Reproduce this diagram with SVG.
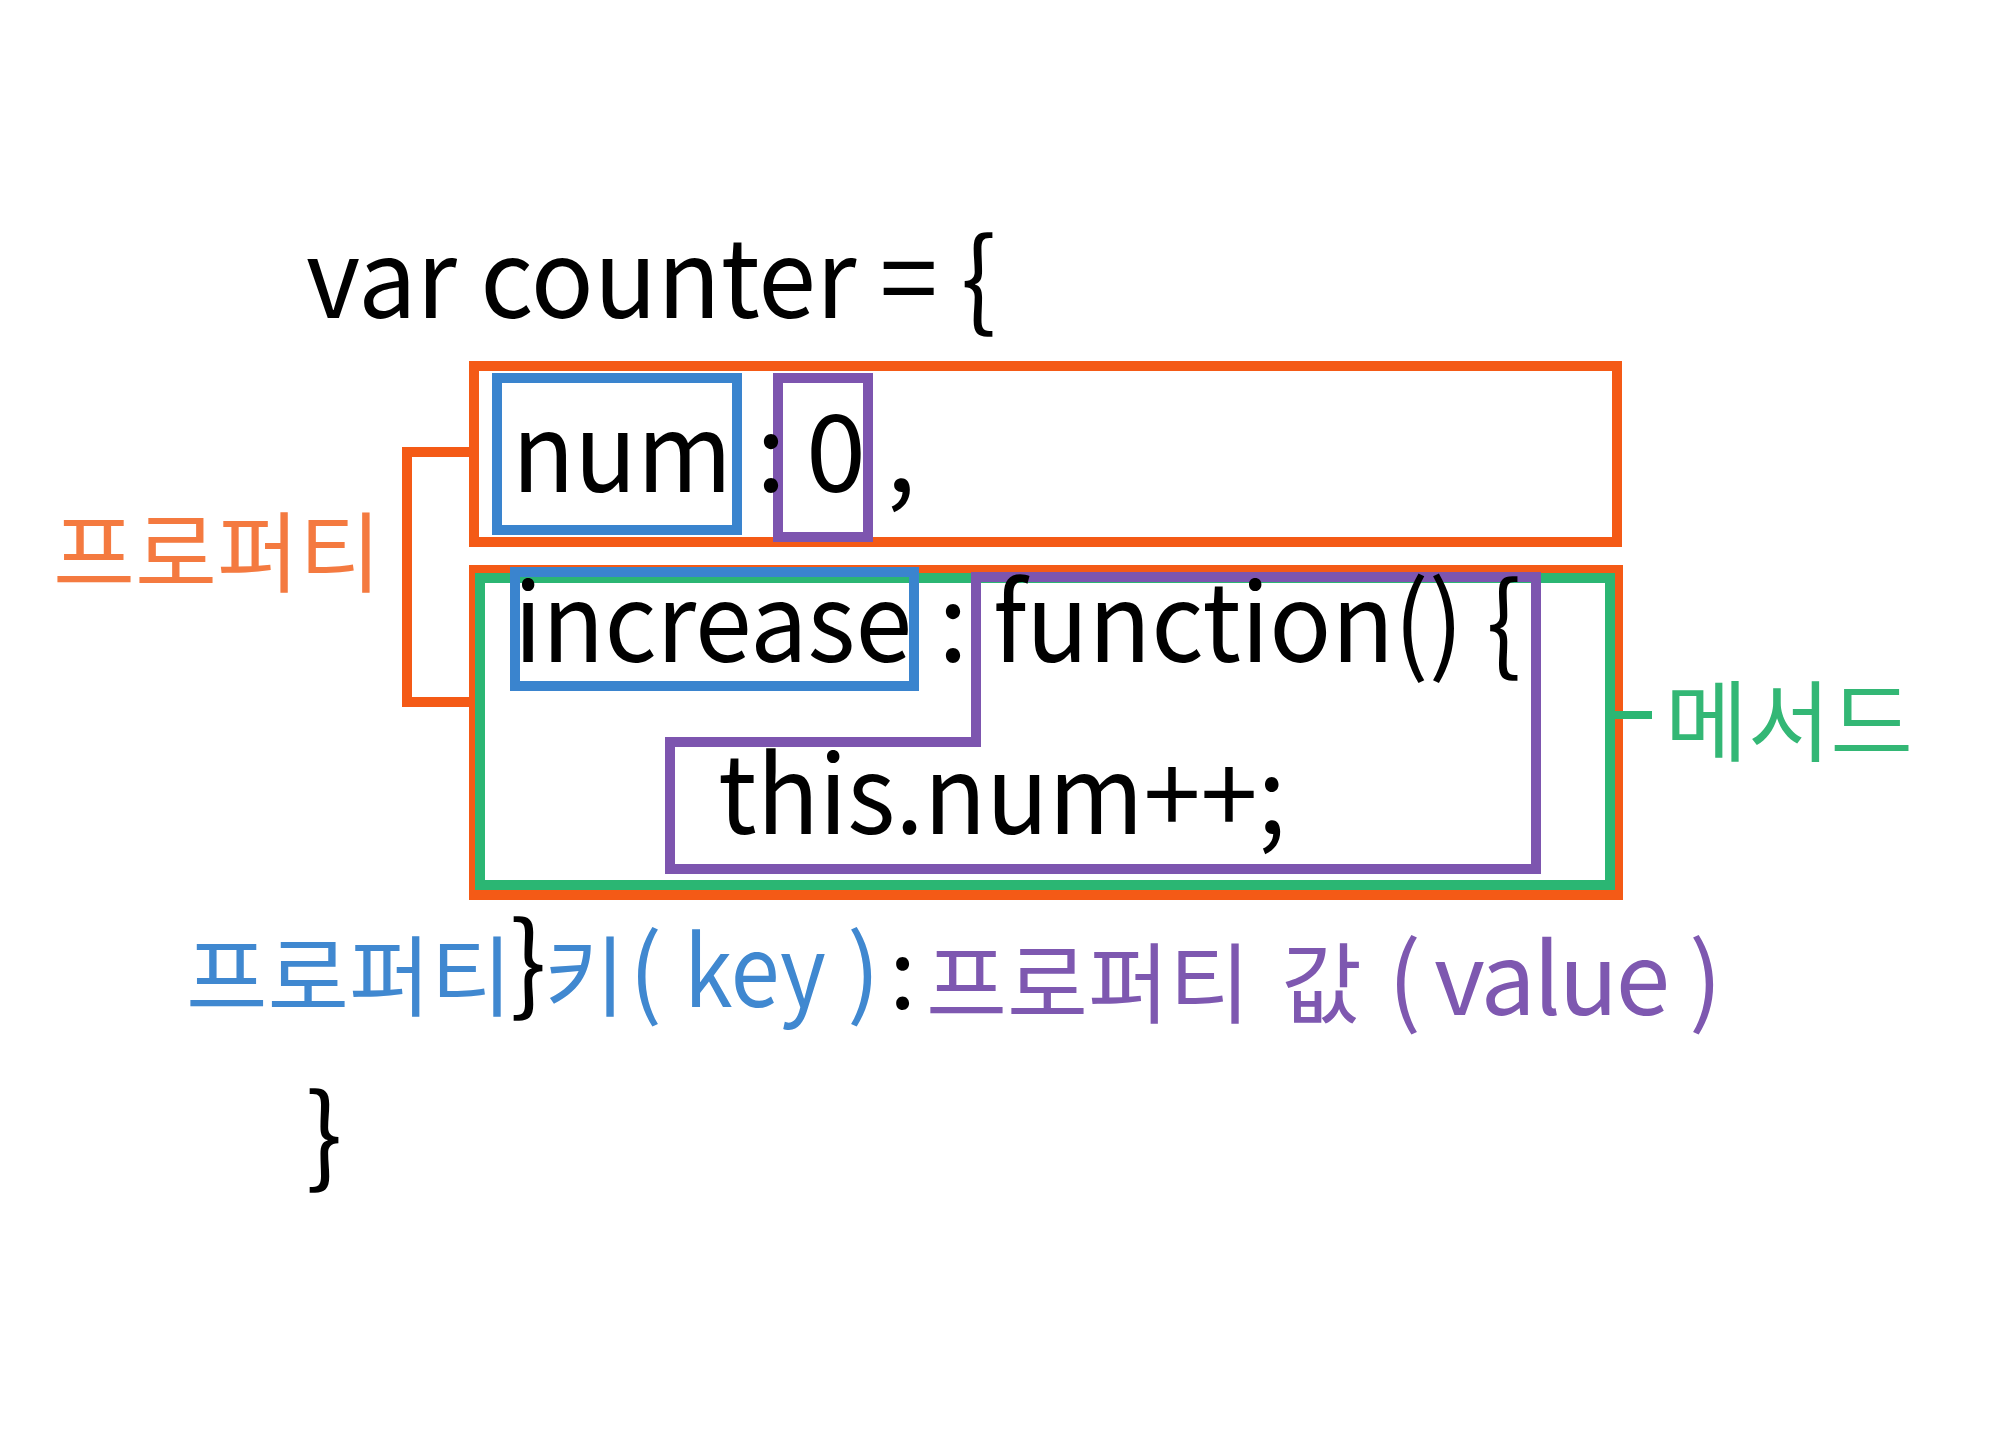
<svg xmlns="http://www.w3.org/2000/svg" width="2000" height="1429" viewBox="0 0 2000 1429">
<style>
.code{font-family:"Noto Sans CJK KR","Noto Sans",sans-serif;font-size:108px;fill:#000}
.lbl{font-family:"Noto Sans CJK KR","Noto Sans",sans-serif;font-size:88px}
.lat{font-family:"Noto Sans CJK KR","Noto Sans",sans-serif;font-size:98px}
.box{fill:none;stroke-width:10;stroke-linejoin:miter}
.or{stroke:#F45A16}.bl{stroke:#3A84CE}.pu{stroke:#7D55AF}.gr{stroke:#2BB673}
</style>
<rect width="2000" height="1429" fill="#fff"/>
<g id="code-header"><text class="code" x="306" y="318" textLength="690" lengthAdjust="spacingAndGlyphs">var counter = {</text></g>
<g id="property-num">
<rect class="box or" x="474" y="366" width="1143" height="176"/>
<rect class="box bl" x="497" y="378" width="240" height="152"/>
<rect class="box pu" x="778" y="378" width="90" height="159"/>
<text class="code" x="512" y="492" textLength="220" lengthAdjust="spacingAndGlyphs">num</text>
<text class="code" x="756" y="492">:</text>
<text class="code" x="806" y="492">0</text>
<text class="code" x="886" y="492">,</text>
</g>
<g id="property-increase">
<rect class="box or" x="474" y="570" width="1144" height="325"/>
<rect class="box gr" x="480" y="578" width="1130" height="307"/>
<rect class="box bl" x="515" y="572" width="399" height="114"/>
<polygon class="box pu" points="976,577 1536,577 1536,869 670,869 670,742 976,742"/>
<text class="code" x="514" y="662" textLength="398" lengthAdjust="spacingAndGlyphs">increase</text>
<text class="code" x="938" y="662">:</text>
<text class="code" x="993" y="662" textLength="528" lengthAdjust="spacingAndGlyphs">function() {</text>
<text class="code" x="718" y="834" textLength="568" lengthAdjust="spacingAndGlyphs">this.num++;</text>
</g>
<g id="code-footer"><text class="code" x="306" y="1174">}</text></g>
<g id="connectors">
<polyline class="box or" points="471,452 407,452 407,702 471,702"/>
<line class="gr" x1="1615" y1="715" x2="1652" y2="715" stroke-width="8"/>
</g>
<g id="label-property"><text class="lbl" x="53" y="585" fill="#F47A40" textLength="328" lengthAdjust="spacingAndGlyphs">프로퍼티</text></g>
<g id="label-method"><text class="lbl" x="1665" y="754" fill="#33B775" font-size="84" textLength="248" lengthAdjust="spacingAndGlyphs">메서드</text></g>
<g id="label-key">
<text class="lbl" x="186" y="1009" fill="#4088D0" textLength="326" lengthAdjust="spacingAndGlyphs">프로퍼티</text>
<text class="code" x="510" y="1002">}</text>
<text class="lbl" x="544" y="1009" fill="#4088D0">키</text>
<text class="lat" x="629" y="1007" fill="#4088D0">(</text>
<text class="lat" x="684" y="1007" fill="#4088D0" textLength="142" lengthAdjust="spacingAndGlyphs">key</text>
<text class="lat" x="847" y="1007" fill="#4088D0">)</text>
</g>
<text class="lat" x="889" y="1009" fill="#000">:</text>
<g id="label-value">
<text class="lbl" x="926" y="1016" fill="#7E58B0" textLength="324" lengthAdjust="spacingAndGlyphs">프로퍼티</text>
<text class="lbl" x="1281" y="1016" fill="#7E58B0">값</text>
<text class="lat" x="1388" y="1015" fill="#7E58B0">(</text>
<text class="lat" x="1434" y="1015" fill="#7E58B0" textLength="236" lengthAdjust="spacing">value</text>
<text class="lat" x="1689" y="1015" fill="#7E58B0">)</text>
</g>
</svg>
